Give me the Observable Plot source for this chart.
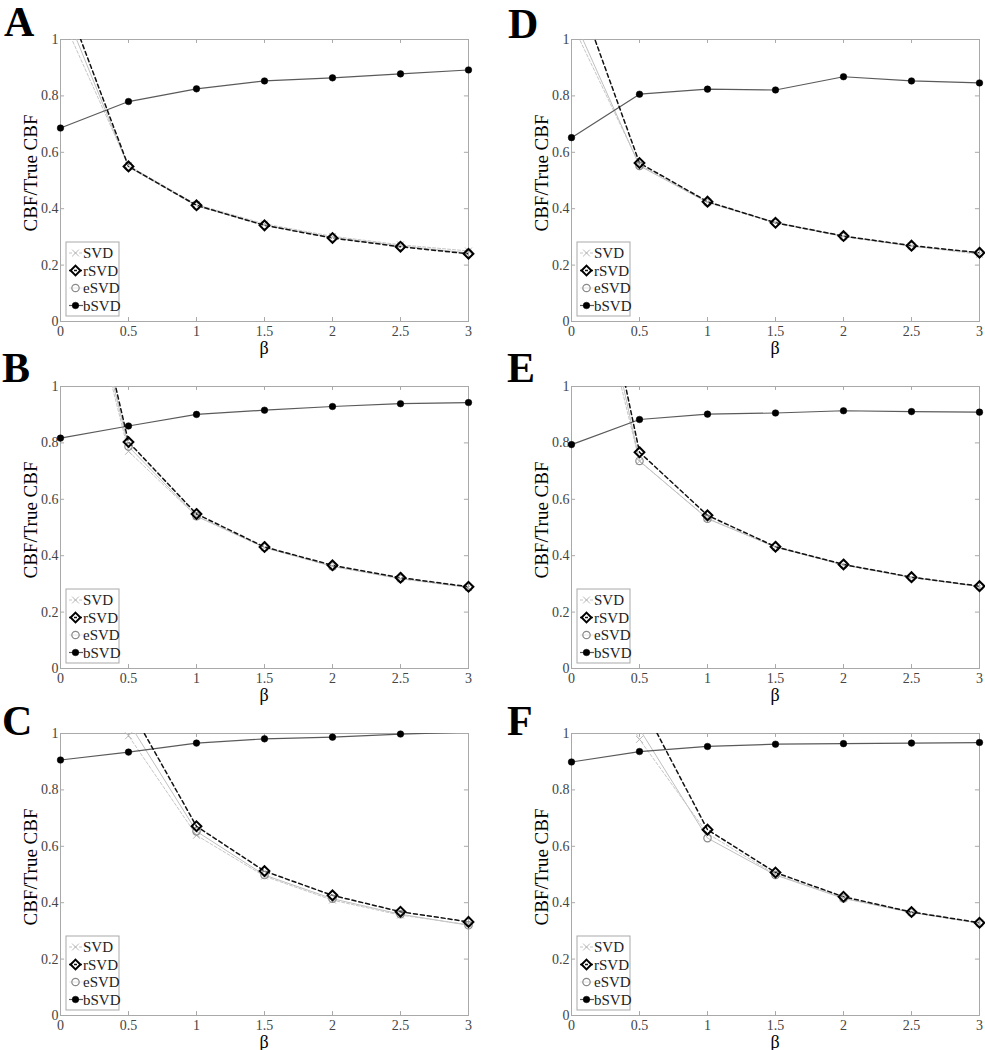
<!DOCTYPE html>
<html><head><meta charset="utf-8">
<script src="https://cdn.jsdelivr.net/npm/d3@7"></script>
<script src="https://cdn.jsdelivr.net/npm/@observablehq/plot@0.6"></script>
<style>
body{margin:0;background:#fff;}
#fig{position:relative;width:985px;height:1050px;font-family:"Liberation Serif","Times New Roman",serif;background:#fff;}
#fig svg{position:absolute;}
</style></head><body><div id="fig"></div>
<script>
// ---- data ----
const beta = [0, 0.5, 1, 1.5, 2, 2.5, 3];
const xTicks = [0, 0.5, 1, 1.5, 2, 2.5, 3];
const yTicks = [0, 0.2, 0.4, 0.6, 0.8, 1];
const methods = ["SVD", "rSVD", "eSVD", "bSVD"];
const letters = ["A", "B", "C", "D", "E", "F"];

const A_SVD  = [1.09, 0.553, 0.415, 0.346, 0.302, 0.272, 0.250];
const A_rSVD = [1.19, 0.550, 0.412, 0.341, 0.296, 0.265, 0.240];
const A_eSVD = [1.14, 0.548, 0.410, 0.342, 0.298, 0.268, 0.243];
const A_bSVD = [0.686, 0.780, 0.825, 0.853, 0.864, 0.878, 0.892];

const B_SVD  = [1.73, 0.770, 0.540, 0.428, 0.362, 0.318, 0.287];
const B_rSVD = [1.84, 0.803, 0.548, 0.431, 0.366, 0.322, 0.290];
const B_eSVD = [1.77, 0.787, 0.540, 0.430, 0.362, 0.319, 0.288];
const B_bSVD = [0.817, 0.860, 0.901, 0.916, 0.929, 0.939, 0.943];

const C_SVD  = [1.50, 0.992, 0.639, 0.494, 0.409, 0.356, 0.322];
const C_rSVD = [1.60, 1.100, 0.671, 0.512, 0.426, 0.368, 0.332];
const C_eSVD = [1.50, 1.040, 0.653, 0.498, 0.414, 0.359, 0.320];
const C_bSVD = [0.906, 0.934, 0.966, 0.981, 0.987, 0.998, 1.005];

const D_SVD  = [1.06, 0.556, 0.424, 0.352, 0.303, 0.268, 0.238];
const D_rSVD = [1.23, 0.562, 0.425, 0.350, 0.303, 0.269, 0.244];
const D_eSVD = [1.09, 0.552, 0.422, 0.350, 0.301, 0.267, 0.242];
const D_bSVD = [0.652, 0.806, 0.824, 0.821, 0.868, 0.853, 0.846];

const E_SVD  = [1.72, 0.735, 0.533, 0.430, 0.367, 0.322, 0.290];
const E_rSVD = [1.91, 0.767, 0.543, 0.432, 0.369, 0.324, 0.292];
const E_eSVD = [1.85, 0.736, 0.531, 0.431, 0.368, 0.323, 0.291];
const E_bSVD = [0.794, 0.883, 0.902, 0.906, 0.914, 0.911, 0.909];

const F_SVD  = [1.40, 0.979, 0.645, 0.500, 0.417, 0.366, 0.328];
const F_rSVD = [1.60, 1.120, 0.659, 0.507, 0.421, 0.367, 0.329];
const F_eSVD = [1.50, 1.016, 0.629, 0.498, 0.415, 0.365, 0.327];
const F_bSVD = [0.899, 0.936, 0.954, 0.962, 0.964, 0.966, 0.968];

const panelSeries = {
  A: [A_SVD, A_rSVD, A_eSVD, A_bSVD],
  B: [B_SVD, B_rSVD, B_eSVD, B_bSVD],
  C: [C_SVD, C_rSVD, C_eSVD, C_bSVD],
  D: [D_SVD, D_rSVD, D_eSVD, D_bSVD],
  E: [E_SVD, E_rSVD, E_eSVD, E_bSVD],
  F: [F_SVD, F_rSVD, F_eSVD, F_bSVD]
};

// ---- styles ----
const lineStyle = {
  SVD:  {stroke: "#c6c6c6", strokeWidth: 1, strokeDasharray: "3,2"},
  rSVD: {stroke: "#111", strokeWidth: 1.5, strokeDasharray: "4,3"},
  eSVD: {stroke: "#c0c0c0", strokeWidth: 1},
  bSVD: {stroke: "#5a5a5a", strokeWidth: 1.2}
};
const dotStyle = {
  SVD:  {symbol: "times", r: 3.2, stroke: "#b8b8b8", strokeWidth: 1, fill: "none"},
  rSVD: {symbol: "diamond2", r: 4.4, stroke: "#000", strokeWidth: 2, fill: "none"},
  eSVD: {symbol: "circle", r: 3.7, stroke: "#8a8a8a", strokeWidth: 1.2, fill: "none"},
  bSVD: {symbol: "circle", r: 3.3, stroke: "#000", strokeWidth: 0.5, fill: "#000"}
};
const frameColor = "#a9a9a9";

const layout = {
  A: {left: 0,   top: 0,   ml: 60, lx: 4,  ly: 36},
  B: {left: 0,   top: 347, ml: 60, lx: 2,  ly: 35},
  C: {left: 0,   top: 694, ml: 60, lx: 2,  ly: 41},
  D: {left: 490, top: 0,   ml: 81, lx: 18, ly: 38},
  E: {left: 490, top: 347, ml: 81, lx: 17, ly: 35},
  F: {left: 490, top: 694, ml: 81, lx: 17, ly: 41}
};
const PW = 408, PH = 282, MT = 39;

const fig = document.getElementById("fig");

for (const L of letters) {
  const lay = layout[L];
  const series = panelSeries[L];
  const table = [];
  methods.forEach((m, k) => beta.forEach((b, i) => table.push({beta: b, value: series[k][i], method: m})));
  const of = m => table.filter(d => d.method === m);
  const inRange = m => table.filter(d => d.method === m && d.value <= 1 && d.value >= 0);

  const width = lay.ml + PW + 8;
  const height = MT + PH + 26;

  const chart = Plot.plot({
    width, height,
    marginLeft: lay.ml, marginRight: 8, marginTop: MT, marginBottom: 26,
    x: {domain: [0, 3]},
    y: {domain: [0, 1]},
    style: {fontFamily: "Liberation Serif, Times New Roman, serif", fontSize: "14px", background: "transparent", overflow: "visible"},
    marks: [
      Plot.ruleX(xTicks.slice(1, -1), {x: d => d, y1: 0, y2: 0.014, stroke: frameColor}),
      Plot.ruleX(xTicks.slice(1, -1), {x: d => d, y1: 1, y2: 0.986, stroke: frameColor}),
      Plot.ruleY(yTicks.slice(1, -1), {y: d => d, x1: 0, x2: 0.03, stroke: frameColor}),
      Plot.ruleY(yTicks.slice(1, -1), {y: d => d, x1: 3, x2: 2.97, stroke: frameColor}),
      Plot.frame({stroke: frameColor, strokeWidth: 1}),
      Plot.axisX(xTicks, {tickSize: 0, tickPadding: 5, tickFormat: d => String(d), fill: "#444", label: null}),
      Plot.axisY(yTicks, {tickSize: 0, tickPadding: 2, tickFormat: d => String(d), fill: "#444", label: null}),
      Plot.line(of("eSVD"), {x: "beta", y: "value", ...lineStyle.eSVD, clip: true}),
      Plot.line(of("SVD"), {x: "beta", y: "value", ...lineStyle.SVD, clip: true}),
      Plot.line(of("bSVD"), {x: "beta", y: "value", ...lineStyle.bSVD, clip: true}),
      Plot.line(of("rSVD"), {x: "beta", y: "value", ...lineStyle.rSVD, clip: true}),
      Plot.dot(inRange("SVD"), {x: "beta", y: "value", ...dotStyle.SVD}),
      Plot.dot(inRange("eSVD"), {x: "beta", y: "value", ...dotStyle.eSVD}),
      Plot.dot(inRange("rSVD"), {x: "beta", y: "value", ...dotStyle.rSVD}),
      Plot.dot(inRange("bSVD"), {x: "beta", y: "value", ...dotStyle.bSVD})
    ]
  });
  chart.style.left = lay.left + "px";
  chart.style.top = lay.top + "px";
  fig.appendChild(chart);

  const svg = d3.select(chart);
  // panel letter
  svg.append("text").attr("x", lay.lx).attr("y", lay.ly).attr("text-anchor", "start")
    .attr("font-size", 42).attr("font-weight", "bold").attr("fill", "#000").text(L);
  // y label
  svg.append("text").attr("transform", `translate(${lay.ml - 23},${MT + 134}) rotate(-90)`)
    .attr("text-anchor", "middle").attr("font-size", 19).attr("fill", "#000").text("CBF/True CBF");
  // x label
  svg.append("text").attr("x", lay.ml + PW / 2).attr("y", MT + PH + 33)
    .attr("text-anchor", "middle").attr("font-size", 18).attr("fill", "#000").text("β");

  // legend
  const g = svg.append("g").attr("transform", `translate(${lay.ml + 6},${MT + PH - 79})`);
  g.append("rect").attr("width", 53).attr("height", 74).attr("fill", "#fff").attr("stroke", frameColor);
  const symbolOf = {SVD: d3.symbolTimes, rSVD: d3.symbolDiamond2, eSVD: d3.symbolCircle, bSVD: d3.symbolCircle};
  methods.forEach((m, i) => {
    const y = 11 + i * 17.5;
    const ls = lineStyle[m], ds = dotStyle[m];
    g.append("line").attr("x1", 3).attr("x2", 17).attr("y1", y).attr("y2", y)
      .attr("stroke", m === "eSVD" ? "#e6e6e6" : ls.stroke).attr("stroke-width", ls.strokeWidth)
      .attr("stroke-dasharray", m === "rSVD" ? "3,2" : (ls.strokeDasharray || null));
    g.append("path").attr("transform", `translate(9.5,${y})`)
      .attr("d", d3.symbol(symbolOf[m], Math.PI * ds.r * ds.r)())
      .attr("fill", ds.fill).attr("stroke", ds.stroke).attr("stroke-width", ds.strokeWidth);
    g.append("text").attr("x", 17).attr("y", y + 5).attr("text-anchor", "start")
      .attr("font-size", 15).attr("fill", "#222").text(m);
  });
}
</script></body></html>
